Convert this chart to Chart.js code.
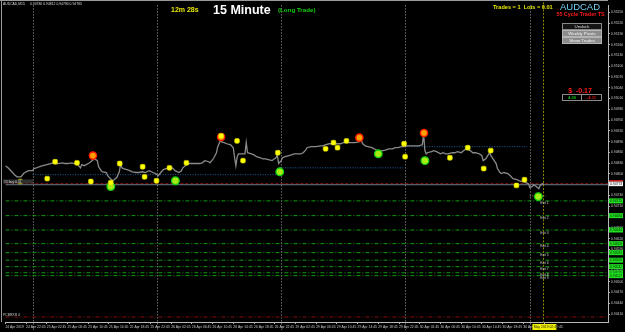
<!DOCTYPE html>
<html>
<head>
<meta charset="utf-8">
<script src="https://cdn.jsdelivr.net/npm/chart.js@4.4.1/dist/chart.umd.min.js"></script>
<style>
  html, body { margin: 0; padding: 0; background: #000; }
</style>
</head>
<body>
<canvas id="chart" width="625" height="332"></canvas>
<script>
// bar index (15 min bars, 0 = 24 Apr 18:45) and close price
const barIndex = [
  0, 2, 5, 7, 9, 12, 14, 16, 18, 21, 22, 24, 26, 29, 32, 35, 37, 39, 41, 44,
  46, 48, 51, 53, 55, 58, 59, 61, 64, 65, 68, 69, 71, 72, 74, 75, 78, 79, 81, 83,
  84, 86, 88, 89, 90, 91, 94, 96, 98, 101, 103, 106, 108, 111, 114, 116, 118, 120, 122, 124,
  126, 129, 131, 134, 136, 137, 140, 142, 144, 147, 150, 152, 154, 157, 158, 160, 161, 163, 164, 166,
  167, 169, 171, 174, 176, 177, 178, 179, 180, 183, 185, 186, 187, 190, 192, 194, 197, 199, 201, 203,
  206, 207, 209, 210, 211, 213, 214, 216, 219, 221, 223, 226, 228, 230, 232, 233, 236, 238, 240, 243,
  245, 247, 250, 252, 254, 256, 259, 261, 263, 266, 268, 270, 273, 275, 276, 278, 280, 283, 285, 287,
  289, 292, 294, 296, 299, 301, 303, 306, 308, 310, 312, 315, 317, 319, 322, 323, 324, 325, 326, 329,
  331, 333, 336, 338, 340, 342, 345, 347, 349, 352, 354, 356, 359, 361, 363, 366, 368, 369, 371, 372,
  374, 375, 377, 379, 380, 382, 383, 385, 388, 390, 392, 395, 397, 399, 402, 404, 405, 407, 408, 410,
  412, 413, 415, 416
];
const closePrice = [
  0.94823, 0.94817, 0.94806, 0.94798, 0.94792, 0.94792, 0.94801, 0.94806, 0.94809, 0.94809,
  0.94815, 0.94817, 0.94820, 0.94823, 0.94826, 0.94829, 0.94831, 0.94829, 0.94829, 0.94831,
  0.94829, 0.94829, 0.94831, 0.94829, 0.94829, 0.94817, 0.94826, 0.94823, 0.94829, 0.94831,
  0.94840, 0.94842, 0.94837, 0.94820, 0.94809, 0.94806, 0.94804, 0.94795, 0.94787, 0.94781,
  0.94784, 0.94790, 0.94806, 0.94829, 0.94817, 0.94815, 0.94812, 0.94809, 0.94806, 0.94804,
  0.94804, 0.94806, 0.94804, 0.94809, 0.94804, 0.94801, 0.94795, 0.94804, 0.94812, 0.94815,
  0.94815, 0.94817, 0.94809, 0.94804, 0.94809, 0.94817, 0.94826, 0.94829, 0.94829, 0.94829,
  0.94829, 0.94831, 0.94837, 0.94834, 0.94831, 0.94840, 0.94845, 0.94859, 0.94876, 0.94892,
  0.94889, 0.94887, 0.94884, 0.94881, 0.94873, 0.94845, 0.94823, 0.94848, 0.94856, 0.94856,
  0.94856, 0.94887, 0.94859, 0.94856, 0.94853, 0.94848, 0.94845, 0.94842, 0.94842, 0.94840,
  0.94837, 0.94840, 0.94845, 0.94853, 0.94829, 0.94837, 0.94845, 0.94848, 0.94851, 0.94853,
  0.94856, 0.94856, 0.94856, 0.94859, 0.94867, 0.94873, 0.94876, 0.94876, 0.94876, 0.94878,
  0.94878, 0.94881, 0.94884, 0.94884, 0.94884, 0.94884, 0.94884, 0.94887, 0.94887, 0.94887,
  0.94887, 0.94887, 0.94889, 0.94892, 0.94884, 0.94878, 0.94876, 0.94873, 0.94870, 0.94865,
  0.94865, 0.94865, 0.94867, 0.94870, 0.94870, 0.94873, 0.94873, 0.94876, 0.94876, 0.94878,
  0.94878, 0.94878, 0.94878, 0.94878, 0.94881, 0.94912, 0.94865, 0.94856, 0.94859, 0.94862,
  0.94865, 0.94862, 0.94856, 0.94859, 0.94856, 0.94856, 0.94859, 0.94859, 0.94862, 0.94859,
  0.94865, 0.94870, 0.94865, 0.94859, 0.94859, 0.94856, 0.94851, 0.94837, 0.94842, 0.94848,
  0.94859, 0.94851, 0.94840, 0.94829, 0.94815, 0.94804, 0.94801, 0.94804, 0.94801, 0.94795,
  0.94787, 0.94784, 0.94781, 0.94779, 0.94776, 0.94773, 0.94762, 0.94765, 0.94770, 0.94765,
  0.94759, 0.94768, 0.94773, 0.94770
];

// signal markers
const yellowBars = [11.5, 32.3, 38.4, 55.3, 66, 81.4, 88.3, 106, 107.5, 116.7, 126.7, 139.8, 166.6, 178.9, 183.5, 210.4, 247.3, 253.4, 256.5, 263.4, 307.9, 308.7, 343.3, 357.1, 369.4, 374.8, 394.7, 400.9];
const yellowPrices = [0.94779, 0.94787, 0.94834, 0.94831, 0.94779, 0.94776, 0.94829, 0.94820, 0.94792, 0.94781, 0.94817, 0.94831, 0.94906, 0.94892, 0.94837, 0.94859, 0.94870, 0.94887, 0.94873, 0.94892, 0.94884, 0.94848, 0.94845, 0.94873, 0.94815, 0.94865, 0.94768, 0.94784];
const greenBars = [81.4, 131.3, 211.9, 288, 324, 411.6];
const greenPrices = [0.94765, 0.94781, 0.94806, 0.94856, 0.94837, 0.94737];
const redBars = [67.6, 166.6, 273.4, 323.3];
const redPrices = [0.94851, 0.94903, 0.94901, 0.94914];

// levels
const pivotStart = [21, 212, 308];
const pivotEnd = [212, 308, 403];
const pivotPrice = [0.94798, 0.94817, 0.94876];
const bidPrice = 0.94770;
const askPrice = 0.94773;
const exitPrices = [0.94725, 0.94684, 0.94644, 0.94606, 0.94581, 0.94560, 0.94542, 0.94525, 0.94517];
const exitNames = ["Exit 1", "Exit 2", "Exit 3", "Exit 4", "Exit 5", "Exit 6", "Exit 7", "Exit 8", "Exit 9"];
const supportPrice = 0.94402;
const daySeparators = [21, 117, 213, 309, 405];
const currentBar = 415.5;

// axes
const timeTickBars = [0, 16, 32, 48, 64, 80, 96, 112, 128, 144, 160, 176, 192, 208, 224, 240, 256, 272, 288, 304, 320, 336, 352, 368, 384, 400, 416];
const timeTickLabels = [
  "24 Apr 2019", "24 Apr 22:45", "25 Apr 02:45", "25 Apr 06:45", "25 Apr 10:45", "25 Apr 14:45",
  "25 Apr 18:45", "25 Apr 22:45", "26 Apr 02:45", "26 Apr 06:45", "26 Apr 10:45", "26 Apr 14:45",
  "26 Apr 18:45", "26 Apr 22:45", "29 Apr 02:45", "29 Apr 06:45", "29 Apr 10:45", "29 Apr 14:45",
  "29 Apr 18:45", "29 Apr 22:45", "30 Apr 02:45", "30 Apr 06:45", "30 Apr 10:45", "30 Apr 14:45",
  "30 Apr 18:45", "30 Apr 22:45", "1 May 02:45"
];
const priceTicks = [
  0.94410, 0.94440, 0.94470, 0.94500, 0.94530, 0.94560, 0.94590, 0.94620, 0.94650, 0.94680,
  0.94710, 0.94740, 0.94770, 0.94800, 0.94830, 0.94860, 0.94890, 0.94920, 0.94950, 0.94980,
  0.95010, 0.95040, 0.95070, 0.95100, 0.95130, 0.95160, 0.95190, 0.95220, 0.95250
];

const TINY = "Liberation Sans, Arial, sans-serif";

function hline(price, from, to, color, dash, width) {
  return {
    type: "line",
    data: [{ x: from, y: price }, { x: to, y: price }],
    borderColor: color,
    borderWidth: width || 1,
    borderDash: dash || [],
    pointRadius: 0,
    order: 10,
  };
}

function points(xs, ys) {
  return xs.map((x, i) => ({ x, y: ys[i] }));
}

const datasets = [
  {
    data: points(greenBars, greenPrices),
    showLine: false,
    pointStyle: "circle",
    pointRadius: 3.8,
    backgroundColor: "#a6ea16",
    borderColor: "#10d010",
    borderWidth: 1.3,
    order: 1,
  },
  {
    data: points(redBars, redPrices),
    showLine: false,
    pointStyle: "circle",
    pointRadius: 3.6,
    backgroundColor: "#ffa000",
    borderColor: "#ff1a00",
    borderWidth: 1.4,
    order: 1,
  },
  {
    data: points(yellowBars, yellowPrices),
    showLine: false,
    pointStyle: "rectRounded",
    pointRadius: 2.8,
    backgroundColor: "#ffff00",
    borderColor: "#d0d000",
    borderWidth: 0.6,
    order: 0,
  },
  {
    data: points(barIndex, closePrice),
    borderColor: "#8a8a8a",
    borderWidth: 1.3,
    pointRadius: 0,
    tension: 0,
    order: 5,
  },
];
pivotPrice.forEach((p, i) => datasets.push(hline(p, pivotStart[i], pivotEnd[i], "#1f5f9f", [1, 1.5])));
datasets.push(hline(bidPrice, 0, 465.4, "#6c7a86", [], 1));
datasets.push(hline(askPrice, 0, 465.4, "#8a1010", [3, 2]));
exitPrices.forEach((p) => datasets.push(hline(p, 0, 465.4, "#119a11", [4, 2, 1, 2])));
datasets.push(hline(supportPrice, 0, 465.4, "#8a0c0c", [4, 2, 1, 2]));
datasets.push(hline(0.94739, 405, 417, "#8a8a8a", [1, 1.5]));

function txt(ctx, s, x, y, font, color, align) {
  ctx.font = font;
  ctx.fillStyle = color;
  ctx.textAlign = align || "left";
  ctx.textBaseline = "middle";
  ctx.fillText(s, x, y);
}

function button(ctx, label, x, y, w, h, fill, stroke, color) {
  ctx.fillStyle = fill;
  ctx.fillRect(x, y, w, h);
  ctx.strokeStyle = stroke;
  ctx.lineWidth = 1;
  ctx.strokeRect(x + 0.5, y + 0.5, w - 1, h - 1);
  txt(ctx, label, x + w / 2, y + h / 2 + 0.3, "4.4px " + TINY, color, "center");
}

const overlay = {
  id: "overlay",
  beforeDraw(chart) {
    const ctx = chart.ctx;
    ctx.save();
    ctx.fillStyle = "#000";
    ctx.fillRect(0, 0, chart.width, chart.height);
    ctx.restore();
  },
  beforeDatasetsDraw(chart) {
    const { ctx, chartArea: a, scales: { x } } = chart;
    ctx.save();
    ctx.lineWidth = 1;
    ctx.strokeStyle = "#a0a0a0";
    ctx.setLineDash([1, 2]);
    daySeparators.forEach((b) => {
      const px = Math.round(x.getPixelForValue(b)) + 0.5;
      ctx.beginPath();
      ctx.moveTo(px, a.top);
      ctx.lineTo(px, a.bottom + 8);
      ctx.stroke();
    });
    ctx.strokeStyle = "#8c8c00";
    ctx.setLineDash([2, 1.5]);
    const cx = Math.round(x.getPixelForValue(currentBar)) + 0.5;
    ctx.beginPath();
    ctx.moveTo(cx, a.top - 3);
    ctx.lineTo(cx, a.bottom + 8);
    ctx.stroke();
    ctx.restore();
  },
  afterDraw(chart) {
    const { ctx, chartArea: a, scales: { x, y } } = chart;
    ctx.save();
    // frame
    ctx.strokeStyle = "#9a9a9a";
    ctx.lineWidth = 1;
    ctx.beginPath();
    ctx.moveTo(0, 0.5);
    ctx.lineTo(a.right, 0.5);
    ctx.moveTo(1.5, 0);
    ctx.lineTo(1.5, a.bottom);
    ctx.stroke();

    txt(ctx, "AUDCAD,M15", 3, 4, "3.4px " + TINY, "#d8d8d8");
    txt(ctx, "0.94780 0.94812 0.94780 0.94785", 30, 4, "3.4px " + TINY, "#d8d8d8");

    txt(ctx, "12m 28s", 171, 10.5, "bold 7px " + TINY, "#e8e800");
    txt(ctx, "15 Minute", 213, 10.5, "bold 12.5px " + TINY, "#ffffff");
    txt(ctx, "(Long Trade)", 278, 10.5, "bold 6.2px " + TINY, "#10d010");
    txt(ctx, "Trades = 1  Lots = 0.01", 493, 7, "bold 5.6px " + TINY, "#e8e800");
    txt(ctx, "AUDCAD", 580, 7.5, "9.5px " + TINY, "#74d0f4", "center");
    txt(ctx, "55 Cycle Trader TS", 580.5, 14.5, "bold 5.4px " + TINY, "#ff1a1a", "center");

    button(ctx, "Undock", 562, 23, 40, 7, "#141414", "#8a8a8a", "#d8d8d8");
    button(ctx, "Weekly Pivots", 562, 30, 40, 7, "#8c8c8c", "#b4b4b4", "#f4f4f4");
    button(ctx, "Show Trades", 562, 37, 40, 7, "#8c8c8c", "#b4b4b4", "#f4f4f4");

    txt(ctx, "$  -0.17", 580, 91, "bold 7px " + TINY, "#ff1a1a", "center");
    ctx.strokeStyle = "#8a8a8a";
    ctx.strokeRect(562.5, 94.5, 39, 6);
    ctx.beginPath();
    ctx.moveTo(581.5, 94.5);
    ctx.lineTo(581.5, 100.5);
    ctx.stroke();
    txt(ctx, "4.00", 572, 97.8, "bold 4.2px " + TINY, "#10c010", "center");
    txt(ctx, "-4.11", 591.5, 97.8, "bold 4.2px " + TINY, "#e01010", "center");

    // order label and line label on left
    ctx.fillStyle = "#303030";
    ctx.fillRect(3, 179.5, 30, 4);
    txt(ctx, "#1 buy 0.01", 4, 181.6, "3.4px " + TINY, "#d0d0d0");
    txt(ctx, "PCBRKR 4", 3, 315, "3.4px " + TINY, "#c8c8c8");

    // exit labels
    const lx = x.getPixelForValue(413);
    exitPrices.forEach((p, i) => {
      txt(ctx, exitNames[i], lx, y.getPixelForValue(p) + 2.6, "3.4px " + TINY, "#c8c8c8");
    });

    // price-axis boxes
    const rx = a.right + 1;
    exitPrices.forEach((p) => {
      const py = y.getPixelForValue(p);
      ctx.fillStyle = "#22dd22";
      ctx.fillRect(rx, py - 2.5, 14, 5);
      txt(ctx, p.toFixed(5), rx + 1, py + 0.2, "3.4px " + TINY, "#003300");
    });
    const by = y.getPixelForValue(askPrice);
    ctx.fillStyle = "#e01818";
    ctx.fillRect(rx, by - 3.5, 14, 1.5);
    ctx.fillStyle = "#f4f4f4";
    ctx.fillRect(rx, by - 2, 14, 4.5);
    txt(ctx, askPrice.toFixed(5), rx + 1, by + 0.3, "3.4px " + TINY, "#202020");

    // time-axis box for current bar
    const tx = x.getPixelForValue(currentBar);
    ctx.fillStyle = "#f0f000";
    ctx.fillRect(tx - 11, a.bottom + 2, 24, 6);
    txt(ctx, "1 May 2019 02:45", tx + 1, a.bottom + 5, "3.4px " + TINY, "#202020", "center");
    ctx.restore();
  },
};

new Chart(document.getElementById("chart"), {
  type: "line",
  data: { datasets },
  options: {
    responsive: false,
    animation: false,
    events: [],
    layout: { padding: { top: 4, left: 2, right: 0, bottom: 0 } },
    plugins: { legend: { display: false }, tooltip: { enabled: false }, title: { display: false } },
    scales: {
      x: {
        type: "linear",
        min: 0,
        max: 465.4,
        afterBuildTicks: (s) => { s.ticks = timeTickBars.map((v) => ({ value: v })); },
        afterFit: (s) => { s.height = 10; s.paddingLeft = 0; s.paddingRight = 0; },
        ticks: {
          autoSkip: false,
          maxRotation: 0,
          align: "start",
          padding: 1,
          color: "#c8c8c8",
          font: { family: TINY, size: 3.4 },
          callback: (v, i) => timeTickLabels[i],
        },
        grid: { drawOnChartArea: false, drawTicks: true, tickLength: 2, color: "#b0b0b0" },
        border: { color: "#b8b8b8" },
      },
      y: {
        position: "right",
        min: 0.94388,
        max: 0.95269,
        afterBuildTicks: (s) => { s.ticks = priceTicks.map((v) => ({ value: v })); },
        afterFit: (s) => { s.width = 17; s.paddingTop = 0; s.paddingBottom = 0; },
        ticks: {
          padding: 1,
          color: "#c8c8c8",
          font: { family: TINY, size: 3.4 },
          callback: (v) => v.toFixed(5),
        },
        grid: { drawOnChartArea: false, drawTicks: true, tickLength: 2, color: "#b0b0b0" },
        border: { color: "#b8b8b8" },
      },
    },
  },
  plugins: [overlay],
});
</script>
</body>
</html>
